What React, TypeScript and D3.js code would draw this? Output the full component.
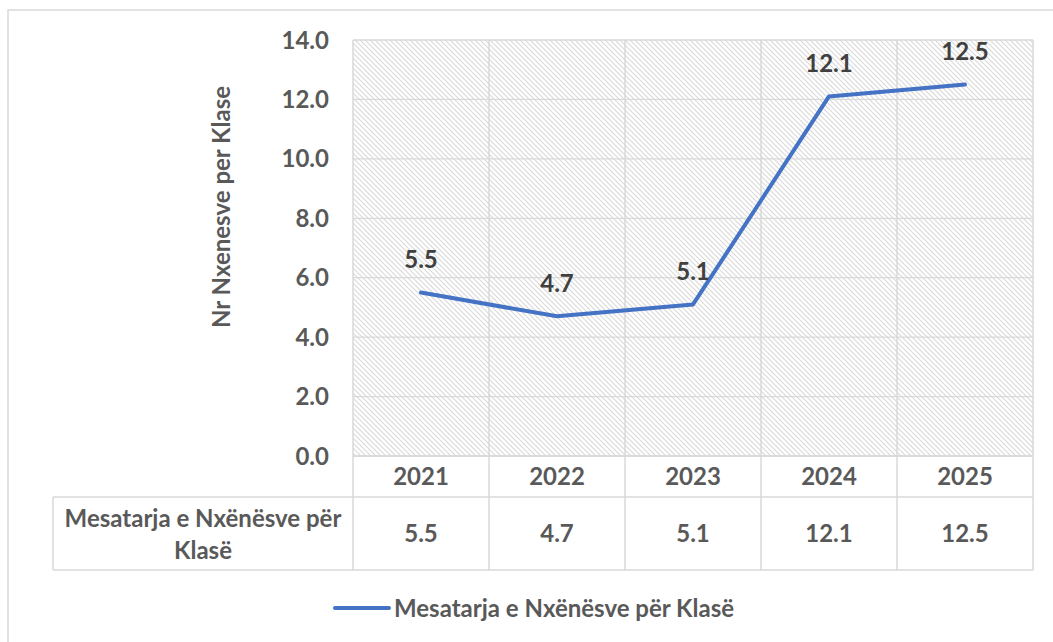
import React from "react";
import * as d3 from "d3";

const years = ["2021", "2022", "2023", "2024", "2025"];
const values = [5.5, 4.7, 5.1, 12.1, 12.5];
const yTicks = [0, 2, 4, 6, 8, 10, 12, 14];
const seriesName = "Mesatarja e Nxënësve për Klasë";
const seriesNameLines = ["Mesatarja e Nxënësve për", "Klasë"];
const yTitle = "Nr Nxenesve per Klase";

const W = 1053;
const H = 642;
const FONT = "Lato, 'Open Sans', sans-serif";
const FS = 24;
const TXT = "#595959";
const GRID = "#d9d9d9";
const LINE = "#4472C4";

export default function App() {
  const left = 353, right = 1033, top = 40, bottom = 456;
  const x = d3.scaleBand<string>().domain(years).range([left, right]);
  const y = d3.scaleLinear().domain([0, 14]).range([bottom, top]);
  const line = d3
    .line<number>()
    .x((_, i) => (x(years[i]) as number) + x.bandwidth() / 2)
    .y((d) => y(d));

  const row1Bottom = 497;
  const row2Bottom = 570;
  const tableLeft = 53;

  return (
    <svg width={W} height={H} style={{ position: "absolute", left: 0, top: 0, background: "#fff" }}>
      <defs>
        <pattern id="hatch" patternUnits="userSpaceOnUse" width={5} height={5}>
          <rect width={5} height={5} fill="#fff" />
          <path d="M0,0 L5,5 M-1,4 L1,6 M4,-1 L6,1" stroke="#dadada" strokeWidth={1.2} />
        </pattern>
      </defs>
      <rect x={8} y={10} width={1100} height={700} fill="#fff" stroke={GRID} strokeWidth={1.5} />

      <rect x={left} y={top} width={right - left} height={bottom - top} fill="url(#hatch)" />

      {yTicks.map((t) => (
        <line key={"g" + t} x1={left} x2={right} y1={y(t)} y2={y(t)} stroke={GRID} strokeWidth={1.3} />
      ))}
      {years.concat(["end"]).map((yr, i) => {
        const xx = left + i * x.bandwidth();
        return <line key={"v" + i} x1={xx} x2={xx} y1={top} y2={row2Bottom} stroke={GRID} strokeWidth={1.5} />;
      })}

      {yTicks.map((t) => (
        <text key={"t" + t} x={329} y={y(t)} dy="0.36em" textAnchor="end" fontFamily={FONT} fontWeight={700} fontSize={FS} fill={TXT}>
          {t.toFixed(1)}
        </text>
      ))}

      <text
        transform={`translate(221,207) rotate(-90)`}
        textAnchor="middle"
        dy="0.36em"
        fontFamily={FONT}
        fontWeight={700}
        fontSize={FS}
        fill={TXT}
      >
        {yTitle}
      </text>

      <path d={line(values) || ""} fill="none" stroke={LINE} strokeWidth={4} strokeLinejoin="round" strokeLinecap="round" />

      {values.map((v, i) => (
        <text
          key={"l" + i}
          x={(x(years[i]) as number) + x.bandwidth() / 2}
          y={y(v) - 33}
          dy="0.36em"
          textAnchor="middle"
          fontFamily={FONT}
          fontWeight={700}
          fontSize={FS}
          fill="#404040"
        >
          {v.toFixed(1)}
        </text>
      ))}

      {/* data table */}
      <line x1={left} x2={right} y1={bottom} y2={bottom} stroke={GRID} strokeWidth={1.5} />
      <line x1={tableLeft} x2={right} y1={row1Bottom} y2={row1Bottom} stroke={GRID} strokeWidth={1.5} />
      <line x1={tableLeft} x2={right} y1={row2Bottom} y2={row2Bottom} stroke={GRID} strokeWidth={1.5} />
      <line x1={tableLeft} x2={tableLeft} y1={row1Bottom} y2={row2Bottom} stroke={GRID} strokeWidth={1.5} />

      {years.map((yr) => (
        <text key={"y" + yr} x={(x(yr) as number) + x.bandwidth() / 2} y={(bottom + row1Bottom) / 2} dy="0.36em" textAnchor="middle" fontFamily={FONT} fontWeight={700} fontSize={FS} fill={TXT}>
          {yr}
        </text>
      ))}
      {values.map((v, i) => (
        <text key={"v" + i} x={(x(years[i]) as number) + x.bandwidth() / 2} y={(row1Bottom + row2Bottom) / 2} dy="0.36em" textAnchor="middle" fontFamily={FONT} fontWeight={700} fontSize={FS} fill={TXT}>
          {v.toFixed(1)}
        </text>
      ))}
      {seriesNameLines.map((s, i) => (
        <text key={"s" + i} x={(tableLeft + left) / 2} y={518 + i * 32} dy="0.36em" textAnchor="middle" fontFamily={FONT} fontWeight={700} fontSize={FS} fill={TXT}>
          {s}
        </text>
      ))}

      {/* legend */}
      <line x1={335} x2={389} y1={608} y2={608} stroke={LINE} strokeWidth={4} strokeLinecap="round" />
      <text x={394} y={608} dy="0.36em" fontFamily={FONT} fontWeight={700} fontSize={FS} fill={TXT}>
        {seriesName}
      </text>
    </svg>
  );
}
